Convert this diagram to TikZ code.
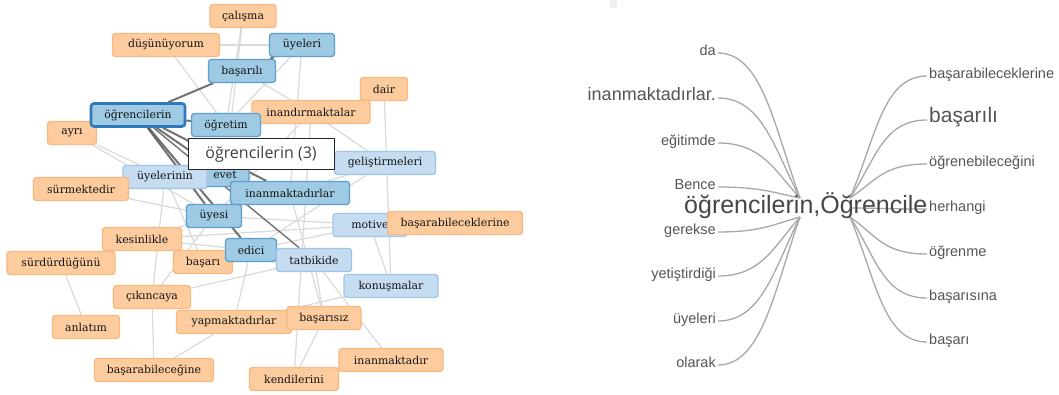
\documentclass[tikz,border=0pt]{standalone}
\usepackage{fontspec}
\usetikzlibrary{backgrounds}
\newfontfamily\gfont{DejaVu Serif}
\newfontfamily\tfont{Open Sans}
\newfontfamily\wfont{Liberation Sans}
\definecolor{orf}{HTML}{FDCC9E}
\definecolor{ord}{HTML}{F8B87F}
\definecolor{blf}{HTML}{9ECAE3}
\definecolor{bld}{HTML}{5E9FD0}
\definecolor{lbf}{HTML}{C6DDF1}
\definecolor{lbd}{HTML}{9FC5E8}
\definecolor{ogd}{HTML}{2E78BE}
\definecolor{dedgec}{HTML}{5A5A5A}
\definecolor{ledgec}{HTML}{DADADA}
\definecolor{wlinec}{HTML}{A8A8A8}
\definecolor{wtextc}{HTML}{555555}
\definecolor{gtextc}{HTML}{141414}
\begin{document}
\begin{tikzpicture}[x=1pt,y=-1pt,
  gbox/.style={rounded corners=3pt, minimum height=23pt, inner sep=0pt, line width=1.3pt,
    font=\gfont\fontsize{10.9}{12}\selectfont, text=gtextc},
  onode/.style={gbox, fill=orf, draw=ord},
  bnode/.style={gbox, fill=blf, draw=bld},
  lnode/.style={gbox, fill=lbf, draw=lbd},
  ledge/.style={draw=ledgec, line width=1.2pt},
  dedge/.style={draw=dedgec, line width=2pt, opacity=0.85},
  wlabel/.style={inner sep=0pt, text=wtextc, font=\wfont\fontsize{14.5}{16}\selectfont},
  wline/.style={draw=wlinec, line width=1.3pt}
]
\useasboundingbox (0,0) rectangle (1059,394);
% ---------- graph nodes ----------
\node[onode, minimum width=66pt] (calisma) at (243,16) {çalışma};
\node[onode, minimum width=107pt] (dusunuyorum) at (166,45) {düşünüyorum};
\node[bnode, minimum width=65pt] (uyeleri) at (302,45) {üyeleri};
\node[bnode, minimum width=67pt] (basarili) at (242,71) {başarılı};
\node[onode, minimum width=47pt] (dair) at (384,89) {dair};
\node[onode, minimum width=49pt] (ayri) at (72,133) {ayrı};
\node[onode, minimum width=118pt] (inandirmaktalar) at (311,112) {inandırmaktalar};
\node[bnode, minimum width=69pt] (ogretim) at (226,125) {öğretim};
\node[bnode, minimum width=94pt, draw=ogd, line width=2.6pt] (ogrencilerin) at (138,115) {öğrencilerin};
\node[lnode, minimum width=101pt] (gelistirmeleri) at (385,163) {geliştirmeleri};
\node[bnode, minimum width=48pt] (evet) at (225,175) {evet};
\node[lnode, minimum width=84pt] (uyelerinin) at (165,177) {üyelerinin};
\node[onode, minimum width=95pt] (surmektedir) at (81,189) {sürmektedir};
\node[bnode, minimum width=119pt] (inanmaktadirlar) at (290,193) {inanmaktadırlar};
\node[bnode, minimum width=55pt] (uyesi) at (214,216) {üyesi};
\node[lnode, minimum width=74pt] (motive) at (370,225) {motive};
\node[onode, minimum width=135pt] (basarabileceklerine) at (455,223) {başarabileceklerine};
\node[onode, minimum width=79pt] (kesinlikle) at (142,239) {kesinlikle};
\node[onode, minimum width=59pt] (basari) at (203,262) {başarı};
\node[bnode, minimum width=51pt] (edici) at (251,250) {edici};
\node[lnode, minimum width=75pt] (tatbikide) at (314,260) {tatbikide};
\node[onode, minimum width=108pt] (surdurdugunu) at (61,263) {sürdürdüğünü};
\node[lnode, minimum width=94pt] (konusmalar) at (391,286) {konuşmalar};
\node[onode, minimum width=77pt] (cikincaya) at (152,297) {çıkıncaya};
\node[onode, minimum width=67pt] (anlatim) at (86,327) {anlatım};
\node[onode, minimum width=115pt] (yapmaktadirlar) at (234,322) {yapmaktadırlar};
\node[onode, minimum width=74pt] (basarisiz) at (324,318) {başarısız};
\node[onode, minimum width=119pt] (basarabilecegine) at (154,370) {başarabileceğine};
\node[onode, minimum width=104pt] (inanmaktadir) at (391,360) {inanmaktadır};
\node[onode, minimum width=89pt] (kendilerini) at (294,379) {kendilerini};
% tooltip
\node[draw=black!85, line width=1pt, fill=white, minimum width=146pt, minimum height=31pt, inner sep=0pt,
  font=\tfont\fontsize{16}{18}\selectfont, text=black!75] (tooltip) at (261,154) {öğrencilerin (3)};
% ---------- word tree ----------
\node[wlabel, anchor=mid east] (wda) at (716,53) {da};
\node[wlabel, anchor=mid east, font=\wfont\fontsize{18}{20}\selectfont] (winan) at (716,98) {inanmaktadırlar.};
\node[wlabel, anchor=mid east] (wegit) at (716,143) {eğitimde};
\node[wlabel, anchor=mid east] (wbence) at (716,187) {Bence};
\node[wlabel, anchor=mid east] (wgerek) at (716,232) {gerekse};
\node[wlabel, anchor=mid east] (wyetis) at (716,276) {yetiştirdiği};
\node[wlabel, anchor=mid east] (wuyeleri) at (716,321) {üyeleri};
\node[wlabel, anchor=mid east] (wolarak) at (716,365) {olarak};
\node[wlabel, anchor=mid west] (wbsrblck) at (929,76) {başarabileceklerine};
\node[wlabel, anchor=mid west, font=\wfont\fontsize{21}{23}\selectfont] (wbasarili) at (929,120) {başarılı};
\node[wlabel, anchor=mid west] (wogreneb) at (929,164) {öğrenebileceğini};
\node[wlabel, anchor=mid west] (wherhangi) at (929,209) {herhangi};
\node[wlabel, anchor=mid west] (wogrenme) at (929,254) {öğrenme};
\node[wlabel, anchor=mid west] (wbasarisina) at (929,298) {başarısına};
\node[wlabel, anchor=mid west] (wbasari) at (929,342) {başarı};
\node[wlabel, anchor=mid west, text=black!72, font=\wfont\fontsize{25}{27}\selectfont] (wroot) at (684,211) {öğrencilerin,Öğrencile};
\coordinate (cTL) at (800,198);
\coordinate (cBL) at (800,217);
\coordinate (cTR) at (850,198);
\coordinate (cMR) at (850,208);
\coordinate (cBR) at (850,217);
% ---------- background: edges ----------
\begin{pgfonlayer}{background}
\fill[white] (0,0) rectangle (1059,394);
\fill[black!6] (610,0) rectangle (617,8);
% light edges
\draw[ledge] (dusunuyorum) -- (uyeleri);
\draw[ledge] (dusunuyorum) -- (ogretim);
\draw[ledge] (calisma) -- (ogretim);
\draw[ledge] (calisma) -- (evet);
\draw[ledge] (uyeleri) -- (inanmaktadirlar);
\draw[ledge] (uyeleri) -- (ogretim);
\draw[ledge] (basarili) -- (inandirmaktalar);
\draw[ledge] (dair) -- (konusmalar);
\draw[ledge] (inandirmaktalar) -- (gelistirmeleri);
\draw[ledge] (inandirmaktalar) -- (uyesi);
\draw[ledge] (inandirmaktalar) -- (kendilerini);
\draw[ledge] (ayri) -- (uyelerinin);
\draw[ledge] (surmektedir) -- (uyesi);
\draw[ledge] (kesinlikle) -- (uyesi);
\draw[ledge] (kesinlikle) -- (edici);
\draw[ledge] (kesinlikle) -- (motive);
\draw[ledge] (surdurdugunu) -- (kesinlikle);
\draw[ledge] (surdurdugunu) -- (anlatim);
\draw[ledge] (cikincaya) -- (basarabilecegine);
\draw[ledge] (cikincaya) -- (uyesi);
\draw[ledge] (cikincaya) -- (tatbikide);
\draw[ledge] (basarabilecegine) -- (yapmaktadirlar);
\draw[ledge] (yapmaktadirlar) -- (konusmalar);
\draw[ledge] (yapmaktadirlar) -- (edici);
\draw[ledge] (basari) -- (tatbikide);
\draw[ledge] (uyelerinin) -- (basari);
\draw[ledge] (uyelerinin) -- (cikincaya);
\draw[ledge] (kendilerini) -- (basarisiz);
\draw[ledge] (inanmaktadir) -- (tatbikide);
\draw[ledge] (tatbikide) -- (basarisiz);
\draw[ledge] (motive) -- (konusmalar);
\draw[ledge] (motive) -- (uyesi);
\draw[ledge] (motive) -- (edici);
\draw[ledge] (gelistirmeleri) -- (inanmaktadirlar);
\draw[ledge] (gelistirmeleri) -- (edici);
\draw[ledge] (basarisiz) -- (inanmaktadirlar);
\draw[ledge] (ayri) -- (uyesi);
% dark edges
\draw[dedge] (ogrencilerin) -- (basarili);
\draw[dedge] (basarili) -- (uyeleri);
\draw[dedge] (ogrencilerin) -- (ogretim);
\draw[dedge] (ogrencilerin) -- (evet);
\draw[dedge] (ogrencilerin) -- (inanmaktadirlar);
\draw[dedge] (ogrencilerin) -- (uyesi);
\draw[dedge] (ogrencilerin) -- (edici);
\draw[dedge, line width=1.4pt] (ogrencilerin) -- (tatbikide);
\draw[dedge, line width=1.4pt] (evet) -- (inanmaktadirlar);
% word tree lines
\draw[wline] ([xshift=2pt]wda.mid east) .. controls (762,53) and (774,126) .. (cTL);
\draw[wline] ([xshift=2pt]winan.mid east) .. controls (762,98) and (774,148) .. (cTL);
\draw[wline] ([xshift=2pt]wegit.mid east) .. controls (762,143) and (774,170) .. (cTL);
\draw[wline] ([xshift=2pt]wbence.mid east) .. controls (762,187) and (774,193) .. (cTL);
\draw[wline] ([xshift=2pt]wgerek.mid east) .. controls (762,232) and (774,224) .. (cBL);
\draw[wline] ([xshift=2pt]wyetis.mid east) .. controls (762,276) and (774,246) .. (cBL);
\draw[wline] ([xshift=2pt]wuyeleri.mid east) .. controls (762,321) and (774,269) .. (cBL);
\draw[wline] ([xshift=2pt]wolarak.mid east) .. controls (762,365) and (774,291) .. (cBL);
\draw[wline] (cTR) .. controls (876,137) and (883,76) .. ([xshift=-2pt]wbsrblck.mid west);
\draw[wline] (cTR) .. controls (876,159) and (883,120) .. ([xshift=-2pt]wbasarili.mid west);
\draw[wline] (cTR) .. controls (876,181) and (883,164) .. ([xshift=-2pt]wogreneb.mid west);
\draw[wline] (cMR) .. controls (876,208) and (883,209) .. ([xshift=-2pt]wherhangi.mid west);
\draw[wline] (cBR) .. controls (876,235) and (883,254) .. ([xshift=-2pt]wogrenme.mid west);
\draw[wline] (cBR) .. controls (876,257) and (883,298) .. ([xshift=-2pt]wbasarisina.mid west);
\draw[wline] (cBR) .. controls (876,279) and (883,342) .. ([xshift=-2pt]wbasari.mid west);
\end{pgfonlayer}
\end{tikzpicture}
\end{document}
